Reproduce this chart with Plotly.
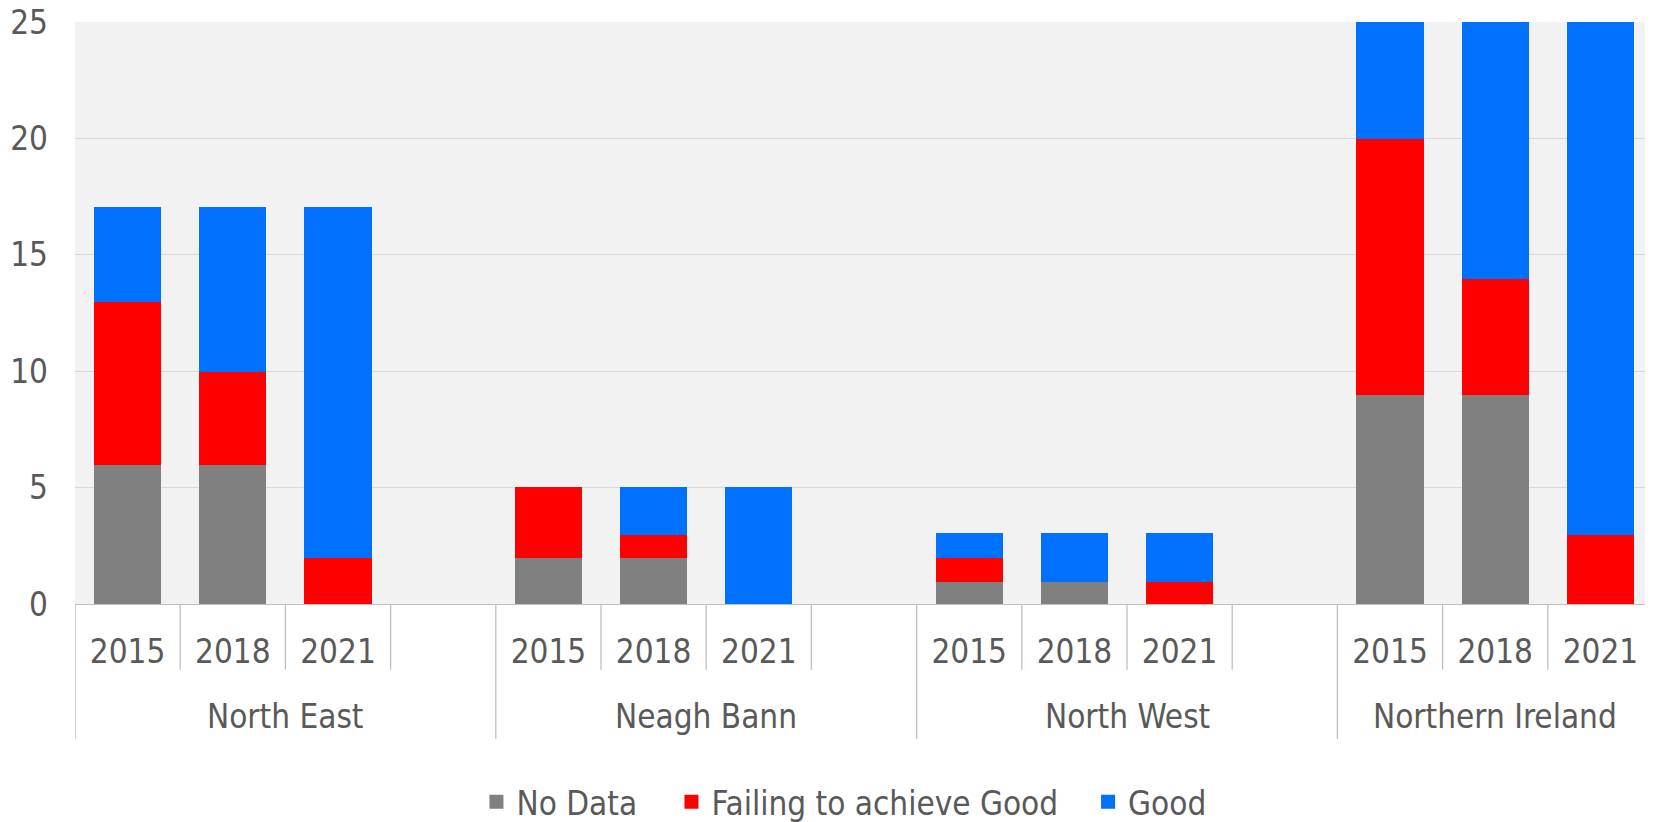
import plotly.graph_objects as go

# ---- data ----
groups = ["North East", "Neagh Bann", "North West", "Northern Ireland"]
years = ["2015", "2018", "2021"]
no_data = [6, 6, 0, 2, 2, 0, 1, 1, 0, 9, 9, 0]
failing = [7, 4, 2, 3, 1, 0, 1, 0, 1, 11, 5, 3]
good = [4, 7, 15, 0, 2, 5, 1, 2, 2, 5, 11, 22]
series_names = ["No Data", "Failing to achieve Good", "Good"]
y_ticks = [0, 5, 10, 15, 20, 25]

# ---- layout helpers ----
SLOTS = 4  # three years + one empty slot per group
positions, labels = [], []
for g in range(len(groups)):
    for i, yr in enumerate(years):
        positions.append(g * SLOTS + i)
        labels.append(yr)
n_slots = (len(groups) - 1) * SLOTS + len(years)
x_lo, x_hi = -0.5, n_slots - 0.5

FONT = "DejaVu Sans Condensed, Liberation Sans, Arial, sans-serif"
FS = 33
TXT = "#595959"
colors = ["#808080", "#FF0000", "#0070FF"]
legend_ids = ["legend", "legend2", "legend3"]
legend_x = [0.2544, 0.3780, 0.6420]

fig = go.Figure()
for name, vals, col, lid in zip(series_names, [no_data, failing, good], colors, legend_ids):
    fig.add_trace(go.Bar(x=positions, y=vals, name=name, marker_color=col,
                         marker_line=dict(color=col,
                                          width=[2 if v else 0 for v in vals]),
                         legend=lid, showlegend=True))

shapes = []
short_y, long_y = -0.113, -0.232
group_bounds = set()
for g in range(len(groups)):
    group_bounds.add(g * SLOTS - 0.5)
group_bounds.add(x_hi)
all_bounds = set(group_bounds)
for g in range(len(groups)):
    for i in range(1, SLOTS):
        b = g * SLOTS + i - 0.5
        if b < x_hi:
            all_bounds.add(b)
for b in sorted(all_bounds):
    shapes.append(dict(type="line", xref="x", yref="paper", x0=b, x1=b,
                       y0=0, y1=long_y if b in group_bounds else short_y,
                       line=dict(color="#BFBFBF", width=1.3)))

annotations = []
for g, name in enumerate(groups):
    start = g * SLOTS - 0.5
    end = min(start + SLOTS, x_hi)
    annotations.append(dict(x=(start + end) / 2, y=-0.194, xref="x", yref="paper",
                            text=name, showarrow=False, yanchor="middle",
                            font=dict(family=FONT, size=FS, color=TXT)))

legend_cfg = {}
for lid, lx in zip(legend_ids, legend_x):
    legend_cfg[lid] = dict(orientation="h", x=lx, xanchor="left", y=-0.340,
                           yanchor="middle", bgcolor="rgba(0,0,0,0)",
                           font=dict(family=FONT, size=FS, color=TXT))

# page body has an 8px margin; the figure is sized to fit the 1653x822 window
fig.update_layout(
    showlegend=True,
    barmode="stack",
    bargap=0.38,
    width=1645, height=814,
    margin=dict(l=67, r=0, t=14, b=218, autoexpand=False),
    plot_bgcolor="#F2F2F2",
    paper_bgcolor="white",
    font=dict(family=FONT, size=FS, color=TXT),
    shapes=shapes,
    annotations=annotations,
    xaxis=dict(range=[x_lo, x_hi], tickmode="array", tickvals=positions,
               ticktext=labels, showgrid=False, zeroline=False,
               showline=True, linecolor="#BFBFBF", linewidth=1.3,
               ticks="", ticklabelstandoff=18, automargin=False,
               ticklabeloverflow="allow",
               tickfont=dict(family=FONT, size=FS, color=TXT)),
    yaxis=dict(range=[0, 25], tickmode="array", tickvals=y_ticks,
               showgrid=True, gridcolor="#D9D9D9", gridwidth=1.3,
               zeroline=False, showline=False, ticks="",
               ticklabelstandoff=26, automargin=False,
               ticklabeloverflow="allow",
               tickfont=dict(family=FONT, size=FS, color=TXT)),
    **legend_cfg,
)

fig.write_html("out.html")
